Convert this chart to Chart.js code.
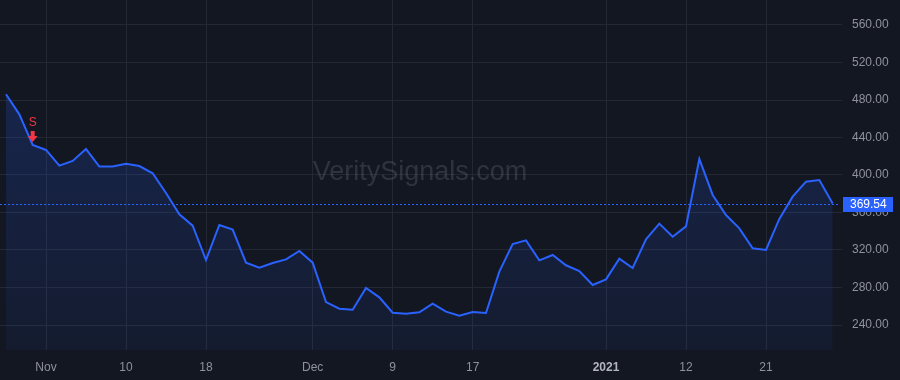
<!DOCTYPE html>
<html lang="en">
<head>
    <meta charset="UTF-8" />
    <title>VeritySignals chart</title>
    <script src="https://cdn.jsdelivr.net/npm/chart.js"></script>
    <style>
        body {
            margin: 0;
            background-color: #131722;
        }

        #wrap {
            width: 900px;
            height: 380px;
        }
    </style>
</head>
<body>
    <div id="wrap"><canvas id="priceChart" width="900" height="380"></canvas></div>

    <script>
        // daily closes, Oct 28 2020 -> Jan 28 2021 (trading days)
        const prices = [486.1, 464.7, 432, 426.7, 410, 415, 427.7, 409, 409, 412,
            409.6, 401.8, 380.8, 358.1, 345.9, 309.3, 346.7, 341.7, 306.5, 301.1,
            306.1, 310, 319, 306.5, 264.5, 257.4, 256.3, 279.5, 269.5, 253.1,
            252, 253.5, 262.7, 254.2, 250, 253.9, 252.8, 296.9, 326.4, 330.3,
            309, 314.7, 303.7, 297.6, 282.7, 288.7, 310.7, 300.8, 331.4, 348.1,
            334.2, 345.2, 417.1, 378.7, 357.3, 343.1, 321.8, 320, 353.1, 376.9,
            392.9, 394.7, 369.54];

        const xTickPos = [3, 9, 15, 23, 29, 35, 45, 51, 57];
        const xTickLabels = ['Nov', '10', '18', 'Dec', '9', '17', '2021', '12', '21'];
        const yTicks = [240, 280, 320, 360, 400, 440, 480, 520, 560];

        const lastPrice = 369.54;
        const signalIndex = 2;
        const signalText = 'S';
        const watermark = 'VeritySignals.com';

        const bg = '#131722';
        const blue = '#2962ff';
        const gridColor = '#242834';
        const textColor = '#8f929b';
        const font = '"Liberation Sans", Arial, sans-serif';

        const points = prices.map((v, i) => ({ x: i, y: v }));

        const extras = {
            id: 'extras',
            beforeDraw(chart) {
                const c = chart.ctx;
                c.save();
                c.fillStyle = bg;
                c.fillRect(0, 0, chart.width, chart.height);
                c.restore();
            },
            beforeDatasetsDraw(chart) {
                const c = chart.ctx;
                const a = chart.chartArea;
                c.save();
                c.font = '27px ' + font;
                c.fillStyle = 'rgba(120,125,140,0.28)';
                c.textAlign = 'center';
                c.textBaseline = 'middle';
                c.fillText(watermark, (a.left + a.right) / 2, (a.top + a.bottom) / 2 - 2);
                c.restore();
            },
            afterDatasetsDraw(chart) {
                const c = chart.ctx;
                const a = chart.chartArea;
                const xs = chart.scales.x;
                const ys = chart.scales.y;
                const py = Math.round(ys.getPixelForValue(lastPrice)) + 0.5;

                // last price line
                c.save();
                c.strokeStyle = blue;
                c.lineWidth = 1;
                c.setLineDash([2, 2]);
                c.beginPath();
                c.moveTo(a.left, py);
                c.lineTo(a.right, py);
                c.stroke();
                c.setLineDash([]);

                // price label on the axis
                c.fillStyle = blue;
                c.fillRect(a.right + 3, py - 7.5, 50, 15);
                c.fillStyle = '#ffffff';
                c.font = '12px ' + font;
                c.textAlign = 'left';
                c.textBaseline = 'middle';
                c.fillText(lastPrice.toFixed(2), a.right + 10, py + 0.5);

                // sell marker
                const sx = xs.getPixelForValue(signalIndex);
                const sy = ys.getPixelForValue(prices[signalIndex]);
                c.fillStyle = '#f23645';
                c.textAlign = 'center';
                c.textBaseline = 'middle';
                c.fillText(signalText, sx, sy - 22);
                c.fillRect(sx - 2, sy - 14, 4, 5);
                c.beginPath();
                c.moveTo(sx - 5, sy - 9);
                c.lineTo(sx + 5, sy - 9);
                c.lineTo(sx, sy - 3);
                c.closePath();
                c.fill();
                c.restore();
            }
        };

        const ctx = document.getElementById('priceChart').getContext('2d');
        new Chart(ctx, {
            type: 'line',
            data: {
                datasets: [{
                    data: points,
                    borderColor: blue,
                    borderWidth: 2,
                    pointRadius: 0,
                    tension: 0,
                    fill: 'start',
                    backgroundColor: function (context) {
                        const area = context.chart.chartArea;
                        if (!area) return 'rgba(41,98,255,0.1)';
                        const g = context.chart.ctx.createLinearGradient(0, area.top, 0, area.bottom);
                        g.addColorStop(0, 'rgba(41,98,255,0.24)');
                        g.addColorStop(1, 'rgba(41,98,255,0.06)');
                        return g;
                    }
                }]
            },
            options: {
                responsive: false,
                animation: false,
                layout: { padding: 0, autoPadding: false },
                plugins: {
                    legend: { display: false },
                    tooltip: { enabled: false }
                },
                scales: {
                    x: {
                        type: 'linear',
                        min: -0.45,
                        max: 62.55,
                        afterBuildTicks(scale) {
                            scale.ticks = xTickPos.map(v => ({ value: v }));
                        },
                        afterFit(scale) {
                            scale.height = 30;
                            scale.paddingLeft = 0;
                            scale.paddingRight = 0;
                        },
                        grid: { color: gridColor, drawTicks: false },
                        border: { display: false },
                        ticks: {
                            autoSkip: false,
                            maxRotation: 0,
                            padding: 10,
                            color: function (c) {
                                return c.tick && c.tick.value === 45 ? '#b2b5be' : textColor;
                            },
                            font: function (c) {
                                const bold = c.tick && c.tick.value === 45;
                                return { family: font, size: 12, weight: bold ? 'bold' : 'normal' };
                            },
                            callback: function (v) {
                                const i = xTickPos.indexOf(v);
                                return i >= 0 ? xTickLabels[i] : '';
                            }
                        }
                    },
                    y: {
                        position: 'right',
                        min: 240 - 25 / 0.9375,
                        max: 560 + 25 / 0.9375,
                        afterBuildTicks(scale) {
                            scale.ticks = yTicks.map(v => ({ value: v }));
                        },
                        afterFit(scale) {
                            scale.width = 60;
                            scale.paddingTop = 0;
                            scale.paddingBottom = 0;
                        },
                        grid: { color: gridColor, tickLength: 2 },
                        border: { display: false },
                        ticks: {
                            padding: 10,
                            color: textColor,
                            font: { family: font, size: 12 },
                            callback: v => Number(v).toFixed(2)
                        }
                    }
                }
            },
            plugins: [extras]
        });
    </script>
</body>
</html>
